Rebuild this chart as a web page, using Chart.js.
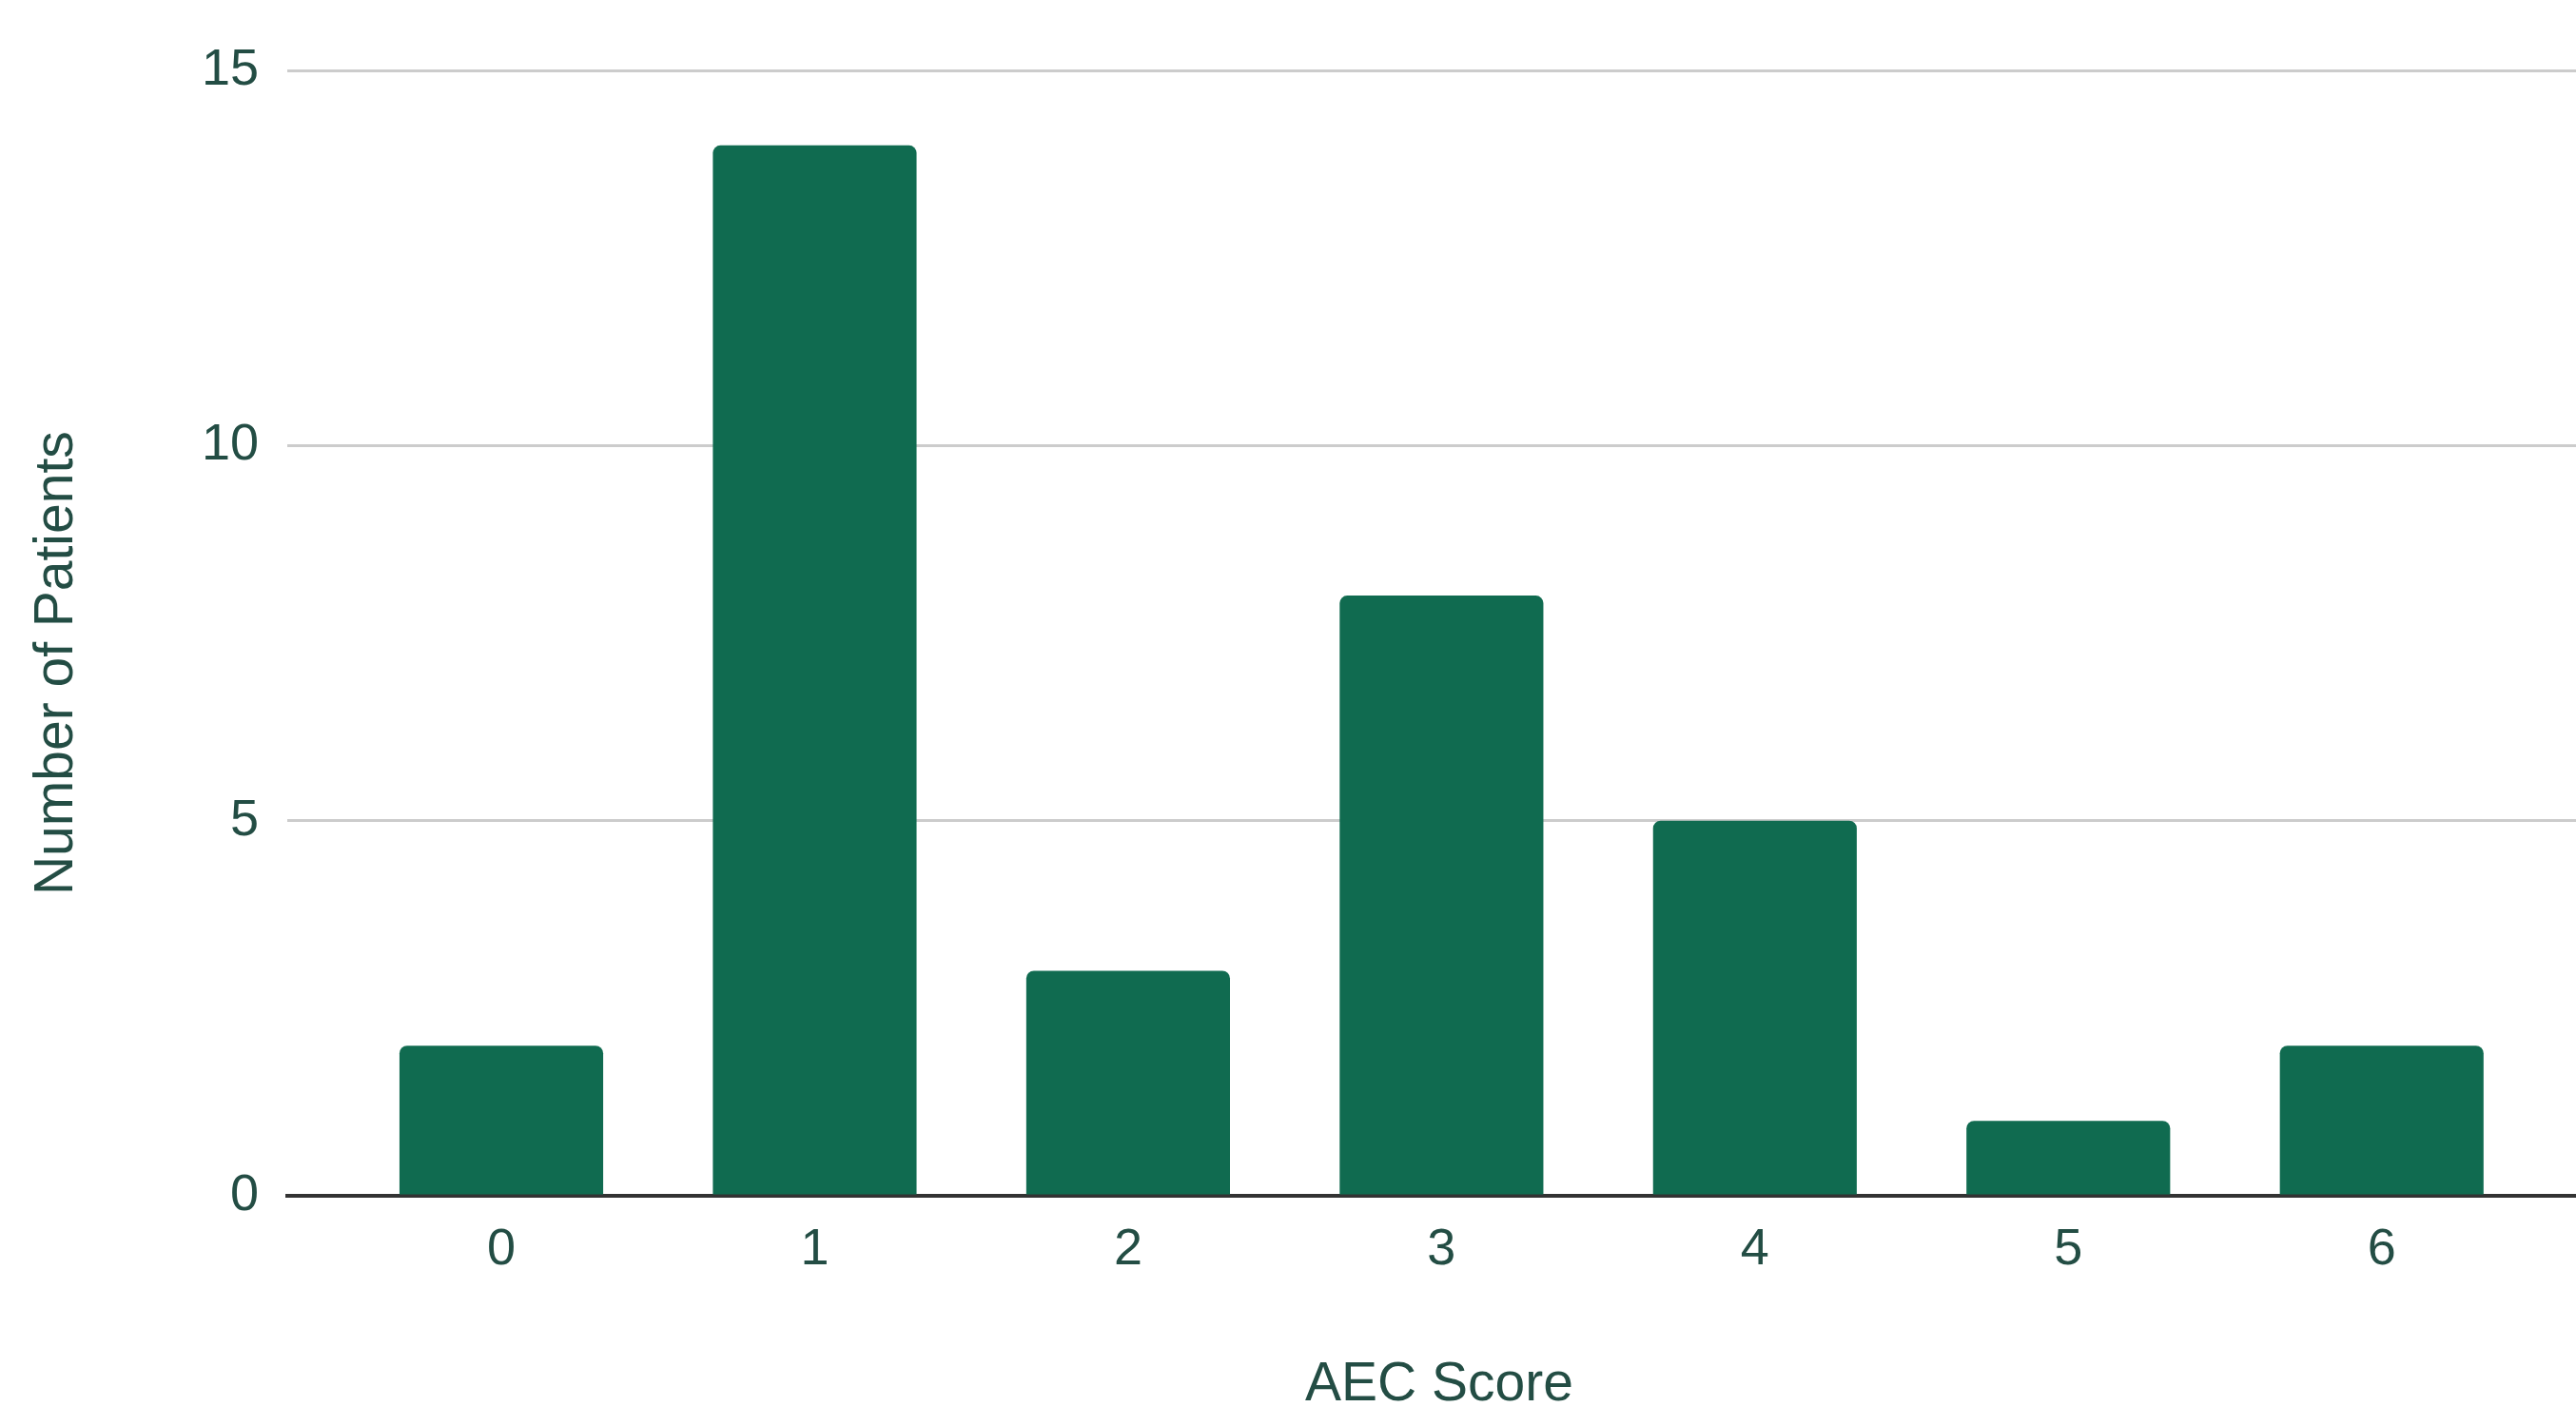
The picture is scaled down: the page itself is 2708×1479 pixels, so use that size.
<!DOCTYPE html>
<html lang="en">
<head>
  <meta charset="UTF-8">
  <title>AEC Score - Number of Patients</title>
  <script src="https://cdn.jsdelivr.net/npm/chart.js"></script>
  <style>
    html, body { margin: 0; padding: 0; background: #ffffff; overflow: hidden; }
    canvas { display: block; }
  </style>
</head>
<body>
  <canvas id="aecChart" width="2708" height="1479"></canvas>

  <script>
    const aecScores = [0, 1, 2, 3, 4, 5, 6];
    const patientCounts = [2, 14, 3, 8, 5, 1, 2];
    const yTicks = [0, 5, 10, 15];

    const textColor = '#234d44';
    const fontFamily = '"Liberation Sans", Arial, sans-serif';

    const ctx = document.getElementById('aecChart');
    const aecChart = new Chart(ctx, {
      type: 'bar',
      data: {
        datasets: [{
          label: 'Number of Patients',
          data: aecScores.map((s, i) => ({ x: s, y: patientCounts[i] })),
          backgroundColor: '#106b50',
          borderWidth: 0,
          borderRadius: { topLeft: 8, topRight: 8, bottomLeft: 0, bottomRight: 0 },
          borderSkipped: 'start',
          categoryPercentage: 1,
          barPercentage: 0.65
        }]
      },
      options: {
        responsive: false,
        animation: false,
        layout: { padding: { top: 74, right: 0, left: 0, bottom: 0 } },
        plugins: {
          legend: { display: false },
          tooltip: { enabled: false }
        },
        scales: {
          x: {
            type: 'linear',
            offset: false,
            min: -0.683,
            max: 6.62,
            afterBuildTicks: (scale) => { scale.ticks = aecScores.map(v => ({ value: v })); },
            afterFit: (scale) => { scale.height = 222; },
            grid: { display: false, drawTicks: false },
            border: { display: true, color: '#333333', width: 4 },
            ticks: {
              padding: 25,
              color: textColor,
              font: { family: fontFamily, size: 54 },
              maxRotation: 0
            },
            title: {
              display: true,
              // leading space nudges the title a bit to the right
              text: ' AEC Score',
              color: textColor,
              font: { family: fontFamily, size: 57, lineHeight: 1 },
              padding: { top: 0, bottom: -6 }
            }
          },
          y: {
            min: 0,
            max: 15,
            afterBuildTicks: (scale) => { scale.ticks = yTicks.map(v => ({ value: v })); },
            afterFit: (scale) => { scale.width = 302; },
            grid: {
              color: (c) => c.tick && c.tick.value === 0 ? 'rgba(0,0,0,0)' : '#cccccc',
              lineWidth: 3,
              drawTicks: false
            },
            border: { display: false },
            ticks: {
              padding: 30,
              color: textColor,
              font: { family: fontFamily, size: 54 }
            },
            title: {
              display: true,
              // trailing spaces push the rotated title down a little, as in the original
              text: 'Number of Patients    ',
              color: textColor,
              font: { family: fontFamily, size: 57 },
              padding: { top: 26, bottom: 0 }
            }
          }
        }
      }
    });
  </script>
</body>
</html>
